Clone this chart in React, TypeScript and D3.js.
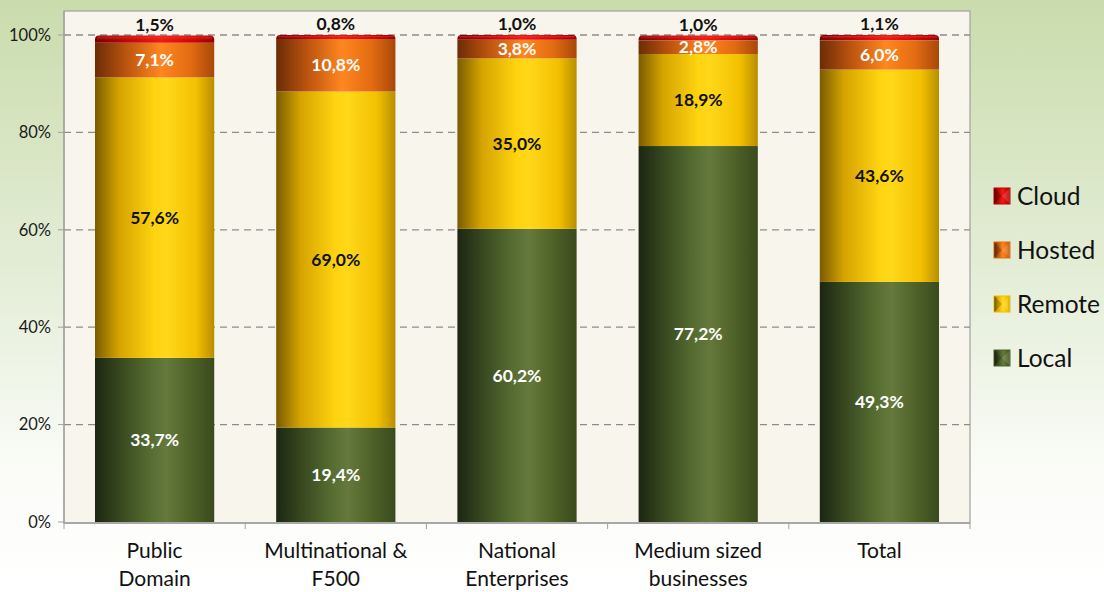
import React from "react";
import * as d3 from "d3";

const categories = ["Public Domain", "Multinational & F500", "National Enterprises", "Medium sized businesses", "Total"];
const categoryLines = [["Public", "Domain"], ["Multinational &", "F500"], ["National", "Enterprises"], ["Medium sized", "businesses"], ["Total"]];
const seriesNames = ["Local", "Remote", "Hosted", "Cloud"];
const local = [33.7, 19.4, 60.2, 77.2, 49.3];
const remote = [57.6, 69.0, 35.0, 18.9, 43.6];
const hosted = [7.1, 10.8, 3.8, 2.8, 6.0];
const cloud = [1.5, 0.8, 1.0, 1.0, 1.1];
const yTicks = [0, 20, 40, 60, 80, 100];

const W = 1104, H = 592;
const plot = { left: 64, right: 970, top: 11, bottom: 523 };
const FONT = "Lato, 'Open Sans', sans-serif";

const gradStops: Record<string, [number, string][]> = {
  Local: [[0, "#1c2612"], [0.2, "#36461f"], [0.45, "#546b30"], [0.6, "#65793c"], [0.8, "#4f6228"], [1, "#3a4a1e"]],
  Remote: [[0, "#7a5c00"], [0.2, "#d4a300"], [0.5, "#ffd410"], [0.6, "#ffd81a"], [0.85, "#f2c000"], [1, "#b88e00"]],
  Hosted: [[0, "#6b2c06"], [0.25, "#b8520e"], [0.55, "#ff8620"], [0.8, "#e36c12"], [1, "#a84808"]],
  Cloud: [[0, "#7a0000"], [0.3, "#c00a0a"], [0.55, "#f01a14"], [0.8, "#d00808"], [1, "#9a0000"]],
};
const legendColor: Record<string, string> = { Local: "#4f6228", Remote: "#f2c000", Hosted: "#e36c12", Cloud: "#c00000" };
const labelColor: Record<string, string> = { Local: "#ffffff", Remote: "#111111", Hosted: "#ffffff", Cloud: "#111111" };

export default function App() {
  const x = d3.scaleBand<string>().domain(categories).range([plot.left, plot.right]).paddingInner(0.342).paddingOuter(0.171);
  const y = d3.scaleLinear().domain([0, 100]).range([plot.bottom - 1, 35]);
  const rows = categories.map((c, i) => ({ cat: c, Local: local[i], Remote: remote[i], Hosted: hosted[i], Cloud: cloud[i] }));
  const stack = d3.stack<any>().keys(seriesNames)(rows);
  const fmt = (v: number) => v.toFixed(1).replace(".", ",") + "%";
  const bandStep = (plot.right - plot.left) / categories.length;
  const boundaries = d3.range(categories.length + 1).map((i) => plot.left + i * bandStep);
  const bw = x.bandwidth();

  return (
    <div style={{ position: "fixed", left: 0, top: 0 }}>
      <svg width={W} height={H} style={{ display: "block" }}>
        <defs>
          <linearGradient id="bg" x1="0" y1="0" x2="0" y2="1">
            <stop offset="0" stopColor="#cadcac" />
            <stop offset="0.45" stopColor="#e3edd6" />
            <stop offset="0.8" stopColor="#fbfcf8" />
            <stop offset="1" stopColor="#ffffff" />
          </linearGradient>
          {seriesNames.map((s) => (
            <linearGradient key={s} id={`g-${s}`} x1="0" y1="0" x2="1" y2="0">
              {gradStops[s].map(([o, c], k) => <stop key={k} offset={o} stopColor={c} />)}
            </linearGradient>
          ))}
          <linearGradient id="cap" x1="0" y1="0" x2="0" y2="1">
            <stop offset="0" stopColor="#ff3a2a" stopOpacity="0.55" />
            <stop offset="1" stopColor="#ff3a2a" stopOpacity="0" />
          </linearGradient>
        </defs>
        <rect x={0} y={0} width={W} height={H} fill="url(#bg)" />
        <rect x={plot.left} y={plot.top} width={plot.right - plot.left} height={plot.bottom - plot.top} fill="#f8f6ec" stroke="#a0a0a0" strokeWidth={1.2} />
        {yTicks.filter((t) => t > 0).map((t) => (
          <line key={t} x1={plot.left} x2={plot.right} y1={y(t)} y2={y(t)} stroke="#8c8c8c" strokeWidth={1.3} strokeDasharray="7,5" />
        ))}
        {stack.map((layer) => (
          <g key={layer.key}>
            {layer.map((d: any, i: number) => {
              const x0 = x(categories[i])!;
              const y0 = y(d[1]);
              const y1 = y(d[0]);
              const h = y1 - y0;
              if (layer.key === "Cloud") {
                const r = 4;
                const path = `M${x0},${y1} L${x0},${y0 + r} Q${x0},${y0} ${x0 + r},${y0} L${x0 + bw - r},${y0} Q${x0 + bw},${y0} ${x0 + bw},${y0 + r} L${x0 + bw},${y1} Z`;
                return (
                  <g key={i}>
                    <path d={path} fill={`url(#g-${layer.key})`} />
                    <rect x={x0 + 2} y={y0 + 1} width={bw - 4} height={Math.max(1, h * 0.5)} fill="url(#cap)" />
                  </g>
                );
              }
              return <rect key={i} x={x0} y={y0} width={bw} height={h} fill={`url(#g-${layer.key})`} />;
            })}
          </g>
        ))}
        {stack.map((layer) => (
          <g key={"l" + layer.key}>
            {layer.map((d: any, i: number) => {
              const cx = x(categories[i])! + bw / 2;
              const v = d[1] - d[0];
              const cy = layer.key === "Cloud" ? y(d[1]) - 11 : (y(d[0]) + y(d[1])) / 2;
              return (
                <text key={i} x={cx} y={cy} dy="0.35em" textAnchor="middle" fontFamily={FONT} fontWeight="bold" fontSize={17.5} fill={labelColor[layer.key]}>
                  {fmt(v)}
                </text>
              );
            })}
          </g>
        ))}
        <line x1={plot.left} x2={plot.right} y1={plot.bottom} y2={plot.bottom} stroke="#a8a8a8" strokeWidth={2} />
        <line x1={plot.left} x2={plot.left} y1={plot.top} y2={plot.bottom} stroke="#a0a0a0" strokeWidth={1.2} />
        {boundaries.map((bx, i) => (
          <line key={i} x1={bx} x2={bx} y1={plot.bottom} y2={plot.bottom + 6} stroke="#a0a0a0" strokeWidth={1} />
        ))}
        {yTicks.map((t) => (
          <g key={t}>
            <line x1={plot.left - 6} x2={plot.left} y1={y(t)} y2={y(t)} stroke="#a0a0a0" strokeWidth={1} />
            <text x={plot.left - 13} y={y(t)} dy="0.35em" textAnchor="end" fontFamily={FONT} fontSize={16.5} fill="#1a1a1a">{t}%</text>
          </g>
        ))}
        {categoryLines.map((lines, i) => (
          <text key={i} x={x(categories[i])! + bw / 2} y={558} textAnchor="middle" fontFamily={FONT} fontSize={21} fill="#111">
            {lines.map((ln, k) => (
              <tspan key={k} x={x(categories[i])! + bw / 2} dy={k === 0 ? 0 : 28}>{ln}</tspan>
            ))}
          </text>
        ))}
        {seriesNames.slice().reverse().map((s, k) => {
          const cy = 196 + k * 54;
          return (
            <g key={s}>
              <rect x={994} y={cy - 8} width={16} height={16} fill={`url(#g-${s})`} stroke={legendColor[s]} strokeWidth={1} />
              <path d={`M994,${cy - 8} L1002,${cy} L994,${cy + 8} Z`} fill="#000" opacity={0.2} />
              <path d={`M1010,${cy - 8} L1002,${cy} L1010,${cy + 8} Z`} fill="#fff" opacity={0.15} />
              <text x={1017} y={cy} dy="0.35em" fontFamily={FONT} fontSize={24.5} fill="#111">{s}</text>
            </g>
          );
        })}
      </svg>
    </div>
  );
}
